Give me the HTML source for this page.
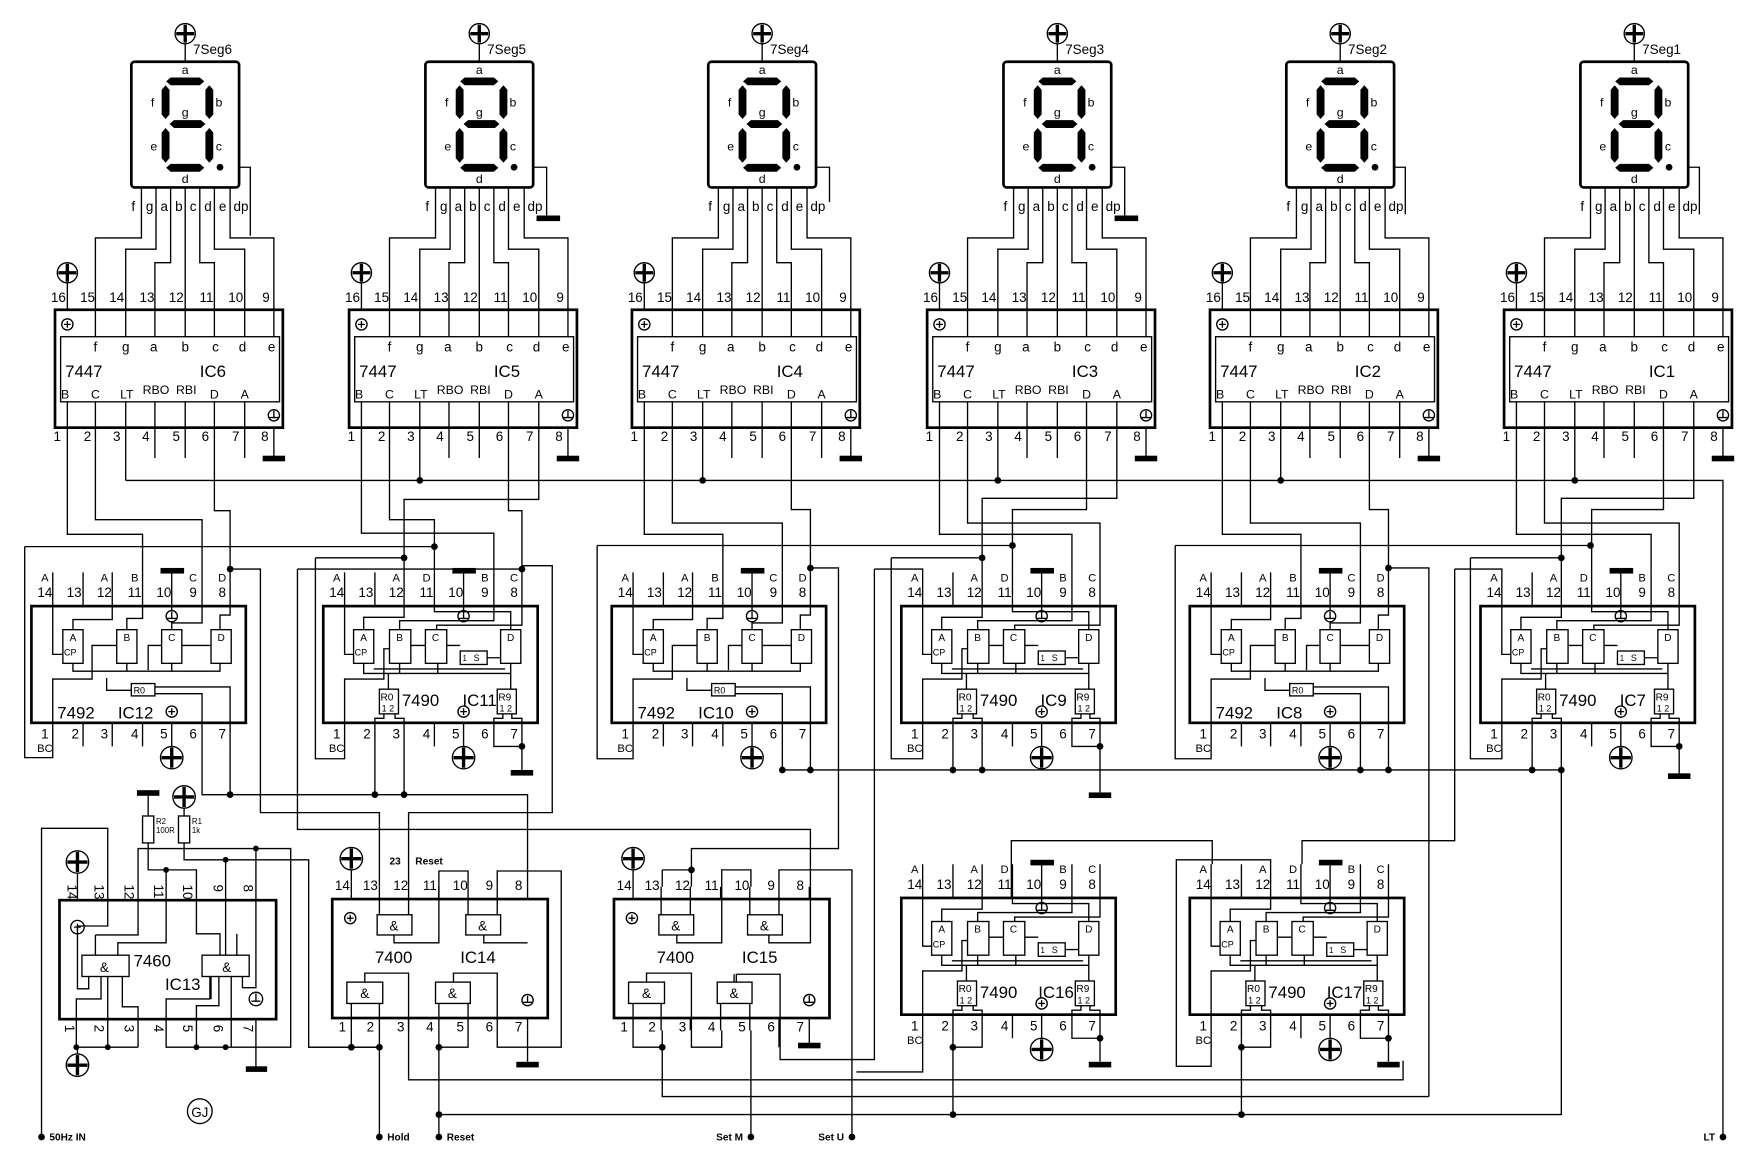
<!DOCTYPE html>
<html><head><meta charset="utf-8"><style>
html,body{margin:0;padding:0;background:#fff}
svg{display:block}
.w{fill:none;stroke:#000;stroke-width:1.2}
.bx{fill:none;stroke:#000;stroke-width:2.4}
.p{fill:none;stroke:#000;stroke-width:3}
.o{fill:#fff;stroke:#000;stroke-width:1.2}
text{font-family:"Liberation Sans",sans-serif;fill:#000}
.t7{font-size:7px}.t8{font-size:8px}.t9{font-size:9px}.t10{font-size:10px}.t11{font-size:11px}.t12{font-size:12px}.t15{font-size:15px}
.bd{font-size:9px;font-weight:bold}
</style></head><body>
<svg width="1760" height="1169" viewBox="0 0 1568 1041.5" preserveAspectRatio="none" xmlns="http://www.w3.org/2000/svg">
<rect width="1568" height="1042" fill="#fff"/>

<!-- ===== COLUMN TEMPLATE (7seg + 7447) x6 ===== -->
<g id="c6" transform="translate(0,0)">
<circle cx="165" cy="30" r="9" class="o"/><path class="p" d="M165,22V38M157,30H173"/>
<path class="w" d="M165,39V55"/>
<text x="172" y="48" class="t12">7Seg6</text>
<rect x="117" y="55" width="96" height="112" rx="3" class="bx"/>
<path d="M148,72.5L152,69H178L182,72.5L178,76H152Z M147.5,76L151,80V102L147.5,106L144,102V80Z M186.5,76L190,80V102L186.5,106L183,102V80Z M151,110.5L155,107H179L183,110.5L179,114H155Z M147.5,114L151,118V141L147.5,145L144,141V118Z M186.5,114L190,118V141L186.5,145L183,141V118Z M148,149.5L152,146H178L182,149.5L178,153H152Z"/>
<circle cx="196" cy="149" r="3"/>
<g class="t11" text-anchor="middle"><text x="165" y="66">a</text><text x="136" y="95">f</text><text x="195" y="95">b</text><text x="165" y="104">g</text><text x="137" y="134">e</text><text x="195" y="134">c</text><text x="165" y="163">d</text></g>
<path class="w" d="M126,167V212H85V300 M139,167V222H112V300 M152,167V234H138V300 M165,167V300 M178,167V234H191V300 M191,167V222H218V300 M205,167V212H244V300 M213,149H223V210"/>
<text class="t12" y="188"><tspan x="117">f</tspan><tspan x="130">g</tspan><tspan x="143">a</tspan><tspan x="156">b</tspan><tspan x="169">c</tspan><tspan x="182">d</tspan><tspan x="195">e</tspan><tspan x="208">dp</tspan></text>
<circle cx="60" cy="243" r="9" class="o"/><path class="p" d="M60,235V251M52,243H68"/>
<path class="w" d="M60,252V276"/>
<text class="t12" y="269" text-anchor="middle"><tspan x="52">16</tspan><tspan x="78">15</tspan><tspan x="104">14</tspan><tspan x="131">13</tspan><tspan x="157">12</tspan><tspan x="184">11</tspan><tspan x="210">10</tspan><tspan x="237">9</tspan></text>
<rect x="49" y="276" width="203" height="105" class="bx"/>
<rect x="54" y="300" width="195" height="58" class="w"/>
<circle cx="60" cy="289" r="5" class="w"/><path class="w" d="M57,289H63M60,286V292"/>
<circle cx="244" cy="370" r="5" class="w"/><path class="w" d="M244,366V372M240,372H248"/>
<text class="t12" y="313" text-anchor="middle"><tspan x="85">f</tspan><tspan x="112">g</tspan><tspan x="137">a</tspan><tspan x="165">b</tspan><tspan x="192">c</tspan><tspan x="216">d</tspan><tspan x="242">e</tspan></text>
<text class="t15" x="58" y="336">7447</text><text class="t15" x="178" y="336">IC6</text>
<text class="t11" y="355" text-anchor="middle"><tspan x="58">B</tspan><tspan x="85">C</tspan><tspan x="113">LT</tspan><tspan x="139" dy="-4">RBO</tspan><tspan x="166">RBI</tspan><tspan x="191" dy="4">D</tspan><tspan x="218">A</tspan></text>
<path class="w" d="M60,358V381 M85,358V381 M112,358V428 M191,358V381 M138,358V408 M165,358V408 M218,358V408 M244,381V408"/>
<rect x="234" y="406" width="20" height="5"/>
<text class="t12" y="393" text-anchor="middle"><tspan x="51">1</tspan><tspan x="78">2</tspan><tspan x="104">3</tspan><tspan x="130">4</tspan><tspan x="157">5</tspan><tspan x="183">6</tspan><tspan x="210">7</tspan><tspan x="236">8</tspan></text>
</g>

<g transform="translate(262,0)">
<circle cx="165" cy="30" r="9" class="o"/><path class="p" d="M165,22V38M157,30H173"/>
<path class="w" d="M165,39V55"/>
<text x="172" y="48" class="t12">7Seg5</text>
<rect x="117" y="55" width="96" height="112" rx="3" class="bx"/>
<path d="M148,72.5L152,69H178L182,72.5L178,76H152Z M147.5,76L151,80V102L147.5,106L144,102V80Z M186.5,76L190,80V102L186.5,106L183,102V80Z M151,110.5L155,107H179L183,110.5L179,114H155Z M147.5,114L151,118V141L147.5,145L144,141V118Z M186.5,114L190,118V141L186.5,145L183,141V118Z M148,149.5L152,146H178L182,149.5L178,153H152Z"/>
<circle cx="196" cy="149" r="3"/>
<g class="t11" text-anchor="middle"><text x="165" y="66">a</text><text x="136" y="95">f</text><text x="195" y="95">b</text><text x="165" y="104">g</text><text x="137" y="134">e</text><text x="195" y="134">c</text><text x="165" y="163">d</text></g>
<path class="w" d="M126,167V212H85V300 M139,167V222H112V300 M152,167V234H138V300 M165,167V300 M178,167V234H191V300 M191,167V222H218V300 M205,167V212H244V300 M213,149H225V193"/>
<rect x="216" y="192" width="21" height="5"/>
<text class="t12" y="188"><tspan x="117">f</tspan><tspan x="130">g</tspan><tspan x="143">a</tspan><tspan x="156">b</tspan><tspan x="169">c</tspan><tspan x="182">d</tspan><tspan x="195">e</tspan><tspan x="208">dp</tspan></text>
<circle cx="60" cy="243" r="9" class="o"/><path class="p" d="M60,235V251M52,243H68"/>
<path class="w" d="M60,252V276"/>
<text class="t12" y="269" text-anchor="middle"><tspan x="52">16</tspan><tspan x="78">15</tspan><tspan x="104">14</tspan><tspan x="131">13</tspan><tspan x="157">12</tspan><tspan x="184">11</tspan><tspan x="210">10</tspan><tspan x="237">9</tspan></text>
<rect x="49" y="276" width="203" height="105" class="bx"/>
<rect x="54" y="300" width="195" height="58" class="w"/>
<circle cx="60" cy="289" r="5" class="w"/><path class="w" d="M57,289H63M60,286V292"/>
<circle cx="244" cy="370" r="5" class="w"/><path class="w" d="M244,366V372M240,372H248"/>
<text class="t12" y="313" text-anchor="middle"><tspan x="85">f</tspan><tspan x="112">g</tspan><tspan x="137">a</tspan><tspan x="165">b</tspan><tspan x="192">c</tspan><tspan x="216">d</tspan><tspan x="242">e</tspan></text>
<text class="t15" x="58" y="336">7447</text><text class="t15" x="178" y="336">IC5</text>
<text class="t11" y="355" text-anchor="middle"><tspan x="58">B</tspan><tspan x="85">C</tspan><tspan x="113">LT</tspan><tspan x="139" dy="-4">RBO</tspan><tspan x="166">RBI</tspan><tspan x="191" dy="4">D</tspan><tspan x="218">A</tspan></text>
<path class="w" d="M60,358V381 M85,358V381 M112,358V428 M191,358V381 M138,358V408 M165,358V408 M218,358V408 M244,381V408"/>
<rect x="234" y="406" width="20" height="5"/>
<text class="t12" y="393" text-anchor="middle"><tspan x="51">1</tspan><tspan x="78">2</tspan><tspan x="104">3</tspan><tspan x="130">4</tspan><tspan x="157">5</tspan><tspan x="183">6</tspan><tspan x="210">7</tspan><tspan x="236">8</tspan></text>
</g>

<g transform="translate(514,0)">
<circle cx="165" cy="30" r="9" class="o"/><path class="p" d="M165,22V38M157,30H173"/>
<path class="w" d="M165,39V55"/>
<text x="172" y="48" class="t12">7Seg4</text>
<rect x="117" y="55" width="96" height="112" rx="3" class="bx"/>
<path d="M148,72.5L152,69H178L182,72.5L178,76H152Z M147.5,76L151,80V102L147.5,106L144,102V80Z M186.5,76L190,80V102L186.5,106L183,102V80Z M151,110.5L155,107H179L183,110.5L179,114H155Z M147.5,114L151,118V141L147.5,145L144,141V118Z M186.5,114L190,118V141L186.5,145L183,141V118Z M148,149.5L152,146H178L182,149.5L178,153H152Z"/>
<circle cx="196" cy="149" r="3"/>
<g class="t11" text-anchor="middle"><text x="165" y="66">a</text><text x="136" y="95">f</text><text x="195" y="95">b</text><text x="165" y="104">g</text><text x="137" y="134">e</text><text x="195" y="134">c</text><text x="165" y="163">d</text></g>
<path class="w" d="M126,167V212H85V300 M139,167V222H112V300 M152,167V234H138V300 M165,167V300 M178,167V234H191V300 M191,167V222H218V300 M205,167V212H244V300 M213,149H225V180"/>
<text class="t12" y="188"><tspan x="117">f</tspan><tspan x="130">g</tspan><tspan x="143">a</tspan><tspan x="156">b</tspan><tspan x="169">c</tspan><tspan x="182">d</tspan><tspan x="195">e</tspan><tspan x="208">dp</tspan></text>
<circle cx="60" cy="243" r="9" class="o"/><path class="p" d="M60,235V251M52,243H68"/>
<path class="w" d="M60,252V276"/>
<text class="t12" y="269" text-anchor="middle"><tspan x="52">16</tspan><tspan x="78">15</tspan><tspan x="104">14</tspan><tspan x="131">13</tspan><tspan x="157">12</tspan><tspan x="184">11</tspan><tspan x="210">10</tspan><tspan x="237">9</tspan></text>
<rect x="49" y="276" width="203" height="105" class="bx"/>
<rect x="54" y="300" width="195" height="58" class="w"/>
<circle cx="60" cy="289" r="5" class="w"/><path class="w" d="M57,289H63M60,286V292"/>
<circle cx="244" cy="370" r="5" class="w"/><path class="w" d="M244,366V372M240,372H248"/>
<text class="t12" y="313" text-anchor="middle"><tspan x="85">f</tspan><tspan x="112">g</tspan><tspan x="137">a</tspan><tspan x="165">b</tspan><tspan x="192">c</tspan><tspan x="216">d</tspan><tspan x="242">e</tspan></text>
<text class="t15" x="58" y="336">7447</text><text class="t15" x="178" y="336">IC4</text>
<text class="t11" y="355" text-anchor="middle"><tspan x="58">B</tspan><tspan x="85">C</tspan><tspan x="113">LT</tspan><tspan x="139" dy="-4">RBO</tspan><tspan x="166">RBI</tspan><tspan x="191" dy="4">D</tspan><tspan x="218">A</tspan></text>
<path class="w" d="M60,358V381 M85,358V381 M112,358V428 M191,358V381 M138,358V408 M165,358V408 M218,358V408 M244,381V408"/>
<rect x="234" y="406" width="20" height="5"/>
<text class="t12" y="393" text-anchor="middle"><tspan x="51">1</tspan><tspan x="78">2</tspan><tspan x="104">3</tspan><tspan x="130">4</tspan><tspan x="157">5</tspan><tspan x="183">6</tspan><tspan x="210">7</tspan><tspan x="236">8</tspan></text>
</g>

<g transform="translate(777,0)">
<circle cx="165" cy="30" r="9" class="o"/><path class="p" d="M165,22V38M157,30H173"/>
<path class="w" d="M165,39V55"/>
<text x="172" y="48" class="t12">7Seg3</text>
<rect x="117" y="55" width="96" height="112" rx="3" class="bx"/>
<path d="M148,72.5L152,69H178L182,72.5L178,76H152Z M147.5,76L151,80V102L147.5,106L144,102V80Z M186.5,76L190,80V102L186.5,106L183,102V80Z M151,110.5L155,107H179L183,110.5L179,114H155Z M147.5,114L151,118V141L147.5,145L144,141V118Z M186.5,114L190,118V141L186.5,145L183,141V118Z M148,149.5L152,146H178L182,149.5L178,153H152Z"/>
<circle cx="196" cy="149" r="3"/>
<g class="t11" text-anchor="middle"><text x="165" y="66">a</text><text x="136" y="95">f</text><text x="195" y="95">b</text><text x="165" y="104">g</text><text x="137" y="134">e</text><text x="195" y="134">c</text><text x="165" y="163">d</text></g>
<path class="w" d="M126,167V212H85V300 M139,167V222H112V300 M152,167V234H138V300 M165,167V300 M178,167V234H191V300 M191,167V222H218V300 M205,167V212H244V300 M213,149H225V193"/>
<rect x="216" y="192" width="21" height="5"/>
<text class="t12" y="188"><tspan x="117">f</tspan><tspan x="130">g</tspan><tspan x="143">a</tspan><tspan x="156">b</tspan><tspan x="169">c</tspan><tspan x="182">d</tspan><tspan x="195">e</tspan><tspan x="208">dp</tspan></text>
<circle cx="60" cy="243" r="9" class="o"/><path class="p" d="M60,235V251M52,243H68"/>
<path class="w" d="M60,252V276"/>
<text class="t12" y="269" text-anchor="middle"><tspan x="52">16</tspan><tspan x="78">15</tspan><tspan x="104">14</tspan><tspan x="131">13</tspan><tspan x="157">12</tspan><tspan x="184">11</tspan><tspan x="210">10</tspan><tspan x="237">9</tspan></text>
<rect x="49" y="276" width="203" height="105" class="bx"/>
<rect x="54" y="300" width="195" height="58" class="w"/>
<circle cx="60" cy="289" r="5" class="w"/><path class="w" d="M57,289H63M60,286V292"/>
<circle cx="244" cy="370" r="5" class="w"/><path class="w" d="M244,366V372M240,372H248"/>
<text class="t12" y="313" text-anchor="middle"><tspan x="85">f</tspan><tspan x="112">g</tspan><tspan x="137">a</tspan><tspan x="165">b</tspan><tspan x="192">c</tspan><tspan x="216">d</tspan><tspan x="242">e</tspan></text>
<text class="t15" x="58" y="336">7447</text><text class="t15" x="178" y="336">IC3</text>
<text class="t11" y="355" text-anchor="middle"><tspan x="58">B</tspan><tspan x="85">C</tspan><tspan x="113">LT</tspan><tspan x="139" dy="-4">RBO</tspan><tspan x="166">RBI</tspan><tspan x="191" dy="4">D</tspan><tspan x="218">A</tspan></text>
<path class="w" d="M60,358V381 M85,358V381 M112,358V428 M191,358V381 M138,358V408 M165,358V408 M218,358V408 M244,381V408"/>
<rect x="234" y="406" width="20" height="5"/>
<text class="t12" y="393" text-anchor="middle"><tspan x="51">1</tspan><tspan x="78">2</tspan><tspan x="104">3</tspan><tspan x="130">4</tspan><tspan x="157">5</tspan><tspan x="183">6</tspan><tspan x="210">7</tspan><tspan x="236">8</tspan></text>
</g>

<g transform="translate(1029,0)">
<circle cx="165" cy="30" r="9" class="o"/><path class="p" d="M165,22V38M157,30H173"/>
<path class="w" d="M165,39V55"/>
<text x="172" y="48" class="t12">7Seg2</text>
<rect x="117" y="55" width="96" height="112" rx="3" class="bx"/>
<path d="M148,72.5L152,69H178L182,72.5L178,76H152Z M147.5,76L151,80V102L147.5,106L144,102V80Z M186.5,76L190,80V102L186.5,106L183,102V80Z M151,110.5L155,107H179L183,110.5L179,114H155Z M147.5,114L151,118V141L147.5,145L144,141V118Z M186.5,114L190,118V141L186.5,145L183,141V118Z M148,149.5L152,146H178L182,149.5L178,153H152Z"/>
<circle cx="196" cy="149" r="3"/>
<g class="t11" text-anchor="middle"><text x="165" y="66">a</text><text x="136" y="95">f</text><text x="195" y="95">b</text><text x="165" y="104">g</text><text x="137" y="134">e</text><text x="195" y="134">c</text><text x="165" y="163">d</text></g>
<path class="w" d="M126,167V212H85V300 M139,167V222H112V300 M152,167V234H138V300 M165,167V300 M178,167V234H191V300 M191,167V222H218V300 M205,167V212H244V300 M213,149H223V191"/>
<text class="t12" y="188"><tspan x="117">f</tspan><tspan x="130">g</tspan><tspan x="143">a</tspan><tspan x="156">b</tspan><tspan x="169">c</tspan><tspan x="182">d</tspan><tspan x="195">e</tspan><tspan x="208">dp</tspan></text>
<circle cx="60" cy="243" r="9" class="o"/><path class="p" d="M60,235V251M52,243H68"/>
<path class="w" d="M60,252V276"/>
<text class="t12" y="269" text-anchor="middle"><tspan x="52">16</tspan><tspan x="78">15</tspan><tspan x="104">14</tspan><tspan x="131">13</tspan><tspan x="157">12</tspan><tspan x="184">11</tspan><tspan x="210">10</tspan><tspan x="237">9</tspan></text>
<rect x="49" y="276" width="203" height="105" class="bx"/>
<rect x="54" y="300" width="195" height="58" class="w"/>
<circle cx="60" cy="289" r="5" class="w"/><path class="w" d="M57,289H63M60,286V292"/>
<circle cx="244" cy="370" r="5" class="w"/><path class="w" d="M244,366V372M240,372H248"/>
<text class="t12" y="313" text-anchor="middle"><tspan x="85">f</tspan><tspan x="112">g</tspan><tspan x="137">a</tspan><tspan x="165">b</tspan><tspan x="192">c</tspan><tspan x="216">d</tspan><tspan x="242">e</tspan></text>
<text class="t15" x="58" y="336">7447</text><text class="t15" x="178" y="336">IC2</text>
<text class="t11" y="355" text-anchor="middle"><tspan x="58">B</tspan><tspan x="85">C</tspan><tspan x="113">LT</tspan><tspan x="139" dy="-4">RBO</tspan><tspan x="166">RBI</tspan><tspan x="191" dy="4">D</tspan><tspan x="218">A</tspan></text>
<path class="w" d="M60,358V381 M85,358V381 M112,358V428 M191,358V381 M138,358V408 M165,358V408 M218,358V408 M244,381V408"/>
<rect x="234" y="406" width="20" height="5"/>
<text class="t12" y="393" text-anchor="middle"><tspan x="51">1</tspan><tspan x="78">2</tspan><tspan x="104">3</tspan><tspan x="130">4</tspan><tspan x="157">5</tspan><tspan x="183">6</tspan><tspan x="210">7</tspan><tspan x="236">8</tspan></text>
</g>

<g transform="translate(1291,0)">
<circle cx="165" cy="30" r="9" class="o"/><path class="p" d="M165,22V38M157,30H173"/>
<path class="w" d="M165,39V55"/>
<text x="172" y="48" class="t12">7Seg1</text>
<rect x="117" y="55" width="96" height="112" rx="3" class="bx"/>
<path d="M148,72.5L152,69H178L182,72.5L178,76H152Z M147.5,76L151,80V102L147.5,106L144,102V80Z M186.5,76L190,80V102L186.5,106L183,102V80Z M151,110.5L155,107H179L183,110.5L179,114H155Z M147.5,114L151,118V141L147.5,145L144,141V118Z M186.5,114L190,118V141L186.5,145L183,141V118Z M148,149.5L152,146H178L182,149.5L178,153H152Z"/>
<circle cx="196" cy="149" r="3"/>
<g class="t11" text-anchor="middle"><text x="165" y="66">a</text><text x="136" y="95">f</text><text x="195" y="95">b</text><text x="165" y="104">g</text><text x="137" y="134">e</text><text x="195" y="134">c</text><text x="165" y="163">d</text></g>
<path class="w" d="M126,167V212H85V300 M139,167V222H112V300 M152,167V234H138V300 M165,167V300 M178,167V234H191V300 M191,167V222H218V300 M205,167V212H244V300 M213,149H223V191"/>
<text class="t12" y="188"><tspan x="117">f</tspan><tspan x="130">g</tspan><tspan x="143">a</tspan><tspan x="156">b</tspan><tspan x="169">c</tspan><tspan x="182">d</tspan><tspan x="195">e</tspan><tspan x="208">dp</tspan></text>
<circle cx="60" cy="243" r="9" class="o"/><path class="p" d="M60,235V251M52,243H68"/>
<path class="w" d="M60,252V276"/>
<text class="t12" y="269" text-anchor="middle"><tspan x="52">16</tspan><tspan x="78">15</tspan><tspan x="104">14</tspan><tspan x="131">13</tspan><tspan x="157">12</tspan><tspan x="184">11</tspan><tspan x="210">10</tspan><tspan x="237">9</tspan></text>
<rect x="49" y="276" width="203" height="105" class="bx"/>
<rect x="54" y="300" width="195" height="58" class="w"/>
<circle cx="60" cy="289" r="5" class="w"/><path class="w" d="M57,289H63M60,286V292"/>
<circle cx="244" cy="370" r="5" class="w"/><path class="w" d="M244,366V372M240,372H248"/>
<text class="t12" y="313" text-anchor="middle"><tspan x="85">f</tspan><tspan x="112">g</tspan><tspan x="137">a</tspan><tspan x="165">b</tspan><tspan x="192">c</tspan><tspan x="216">d</tspan><tspan x="242">e</tspan></text>
<text class="t15" x="58" y="336">7447</text><text class="t15" x="178" y="336">IC1</text>
<text class="t11" y="355" text-anchor="middle"><tspan x="58">B</tspan><tspan x="85">C</tspan><tspan x="113">LT</tspan><tspan x="139" dy="-4">RBO</tspan><tspan x="166">RBI</tspan><tspan x="191" dy="4">D</tspan><tspan x="218">A</tspan></text>
<path class="w" d="M60,358V381 M85,358V381 M112,358V428 M191,358V381 M138,358V408 M165,358V408 M218,358V408 M244,381V408"/>
<rect x="234" y="406" width="20" height="5"/>
<text class="t12" y="393" text-anchor="middle"><tspan x="51">1</tspan><tspan x="78">2</tspan><tspan x="104">3</tspan><tspan x="130">4</tspan><tspan x="157">5</tspan><tspan x="183">6</tspan><tspan x="210">7</tspan><tspan x="236">8</tspan></text>
</g>

<!-- ===== COUNTERS ===== -->
<!-- 7492 IC12 -->
<g transform="translate(0,0)">
<rect x="28" y="540" width="191" height="104" class="bx"/>
<path class="w" d="M47,510V583H56 M74,510V540 M100,510V552H65V561 M127,510V551H113V561 M153,510V544 M180,510V555H153V561 M205,510V548H196V561 M65,591V598H196V591 M113,591V598 M153,591V598 M104,575H82V605H47V665 M144,575H132V597 M162,575H188 M95,604V615H117 M138,612H205V665 M138,618H180V665 M74,644V665 M100,644V665 M127,644V665 M153,644V665"/>
<rect x="143" y="506" width="21" height="5"/>
<circle cx="153" cy="549" r="5" class="w"/><path class="w" d="M153,545V551M149,551H157"/>
<rect x="56" y="561" width="18" height="30" class="w"/><rect x="104" y="561" width="18" height="30" class="w"/><rect x="144" y="561" width="18" height="30" class="w"/><rect x="188" y="561" width="18" height="30" class="w"/>
<rect x="117" y="609" width="21" height="11" class="w"/>
<text class="t9" y="571" text-anchor="middle"><tspan x="65">A</tspan><tspan x="113">B</tspan><tspan x="153">C</tspan><tspan x="197">D</tspan></text>
<text class="t8" x="57" y="584">CP</text><text class="t8" x="119" y="618">R0</text>
<text class="t15" x="51" y="640">7492</text><text class="t15" x="105" y="640">IC12</text>
<circle cx="153" cy="634" r="5" class="w"/><path class="w" d="M150,634H156M153,631V637"/>
<circle cx="153" cy="675" r="10" class="o"/><path class="p" d="M153,666V684M144,675H162"/>
<text class="t10" y="518" text-anchor="middle"><tspan x="40">A</tspan><tspan x="93">A</tspan><tspan x="120">B</tspan><tspan x="172">C</tspan><tspan x="198">D</tspan></text>
<text class="t12" y="532" text-anchor="middle"><tspan x="40">14</tspan><tspan x="66">13</tspan><tspan x="93">12</tspan><tspan x="120">11</tspan><tspan x="146">10</tspan><tspan x="172">9</tspan><tspan x="198">8</tspan></text>
<text class="t12" y="658" text-anchor="middle"><tspan x="40">1</tspan><tspan x="67">2</tspan><tspan x="93">3</tspan><tspan x="120">4</tspan><tspan x="146">5</tspan><tspan x="172">6</tspan><tspan x="198">7</tspan></text>
<text class="t10" x="40" y="670" text-anchor="middle">BC</text>
</g>
<!-- 7492 IC10 -->
<g transform="translate(517,0)">
<rect x="28" y="540" width="191" height="104" class="bx"/>
<path class="w" d="M47,510V583H56 M74,510V540 M100,510V552H65V561 M127,510V551H113V561 M153,510V544 M180,510V555H153V561 M205,510V548H196V561 M65,591V598H196V591 M113,591V598 M153,591V598 M104,575H82V605H47V665 M144,575H132V597 M162,575H188 M95,604V615H117 M138,612H205V665 M138,618H180V665 M74,644V665 M100,644V665 M127,644V665 M153,644V665"/>
<rect x="143" y="506" width="21" height="5"/>
<circle cx="153" cy="549" r="5" class="w"/><path class="w" d="M153,545V551M149,551H157"/>
<rect x="56" y="561" width="18" height="30" class="w"/><rect x="104" y="561" width="18" height="30" class="w"/><rect x="144" y="561" width="18" height="30" class="w"/><rect x="188" y="561" width="18" height="30" class="w"/>
<rect x="117" y="609" width="21" height="11" class="w"/>
<text class="t9" y="571" text-anchor="middle"><tspan x="65">A</tspan><tspan x="113">B</tspan><tspan x="153">C</tspan><tspan x="197">D</tspan></text>
<text class="t8" x="57" y="584">CP</text><text class="t8" x="119" y="618">R0</text>
<text class="t15" x="51" y="640">7492</text><text class="t15" x="105" y="640">IC10</text>
<circle cx="153" cy="634" r="5" class="w"/><path class="w" d="M150,634H156M153,631V637"/>
<circle cx="153" cy="675" r="10" class="o"/><path class="p" d="M153,666V684M144,675H162"/>
<text class="t10" y="518" text-anchor="middle"><tspan x="40">A</tspan><tspan x="93">A</tspan><tspan x="120">B</tspan><tspan x="172">C</tspan><tspan x="198">D</tspan></text>
<text class="t12" y="532" text-anchor="middle"><tspan x="40">14</tspan><tspan x="66">13</tspan><tspan x="93">12</tspan><tspan x="120">11</tspan><tspan x="146">10</tspan><tspan x="172">9</tspan><tspan x="198">8</tspan></text>
<text class="t12" y="658" text-anchor="middle"><tspan x="40">1</tspan><tspan x="67">2</tspan><tspan x="93">3</tspan><tspan x="120">4</tspan><tspan x="146">5</tspan><tspan x="172">6</tspan><tspan x="198">7</tspan></text>
<text class="t10" x="40" y="670" text-anchor="middle">BC</text>
</g>
<!-- 7492 IC8 -->
<g transform="translate(1032,0)">
<rect x="28" y="540" width="191" height="104" class="bx"/>
<path class="w" d="M47,510V583H56 M74,510V540 M100,510V552H65V561 M127,510V551H113V561 M153,510V544 M180,510V555H153V561 M205,510V548H196V561 M65,591V598H196V591 M113,591V598 M153,591V598 M104,575H82V605H47V665 M144,575H132V597 M162,575H188 M95,604V615H117 M138,612H205V665 M138,618H180V665 M74,644V665 M100,644V665 M127,644V665 M153,644V665"/>
<rect x="143" y="506" width="21" height="5"/>
<circle cx="153" cy="549" r="5" class="w"/><path class="w" d="M153,545V551M149,551H157"/>
<rect x="56" y="561" width="18" height="30" class="w"/><rect x="104" y="561" width="18" height="30" class="w"/><rect x="144" y="561" width="18" height="30" class="w"/><rect x="188" y="561" width="18" height="30" class="w"/>
<rect x="117" y="609" width="21" height="11" class="w"/>
<text class="t9" y="571" text-anchor="middle"><tspan x="65">A</tspan><tspan x="113">B</tspan><tspan x="153">C</tspan><tspan x="197">D</tspan></text>
<text class="t8" x="57" y="584">CP</text><text class="t8" x="119" y="618">R0</text>
<text class="t15" x="51" y="640">7492</text><text class="t15" x="105" y="640">IC8</text>
<circle cx="153" cy="634" r="5" class="w"/><path class="w" d="M150,634H156M153,631V637"/>
<circle cx="153" cy="675" r="10" class="o"/><path class="p" d="M153,666V684M144,675H162"/>
<text class="t10" y="518" text-anchor="middle"><tspan x="40">A</tspan><tspan x="93">A</tspan><tspan x="120">B</tspan><tspan x="172">C</tspan><tspan x="198">D</tspan></text>
<text class="t12" y="532" text-anchor="middle"><tspan x="40">14</tspan><tspan x="66">13</tspan><tspan x="93">12</tspan><tspan x="120">11</tspan><tspan x="146">10</tspan><tspan x="172">9</tspan><tspan x="198">8</tspan></text>
<text class="t12" y="658" text-anchor="middle"><tspan x="40">1</tspan><tspan x="67">2</tspan><tspan x="93">3</tspan><tspan x="120">4</tspan><tspan x="146">5</tspan><tspan x="172">6</tspan><tspan x="198">7</tspan></text>
<text class="t10" x="40" y="670" text-anchor="middle">BC</text>
</g>

<!-- 7490 IC11 -->
<g transform="translate(260,0)">
<rect x="28" y="540" width="191" height="104" class="bx"/>
<path class="w" d="M47,510V583H55 M74,510V540 M100,510V550H64V561 M127,510V545H195V561 M153,510V544 M180,510V553H96V561 M205,510V557H129V561 M64,591V600H195V591 M73,596H190 M96,591V600 M130,591V600 M106,575H119 M138,575H150 M174,586H186 M87,578H82V605H47V665 M86,600V614 M195,591V614 M82,636V640H74V665 M92,636V640H100V665 M188,636V640H180V665H205 M196,636V640H205V665 M127,644V665 M153,644V665"/>
<rect x="143" y="506" width="21" height="5"/>
<circle cx="153" cy="549" r="5" class="w"/><path class="w" d="M153,545V551M149,551H157"/>
<rect x="55" y="561" width="18" height="30" class="w"/><rect x="87" y="561" width="19" height="30" class="w"/><rect x="119" y="561" width="19" height="30" class="w"/><rect x="186" y="561" width="18" height="30" class="w"/>
<rect x="150" y="580" width="24" height="12" class="w"/>
<rect x="78" y="614" width="17" height="22" class="w"/><rect x="183" y="614" width="17" height="22" class="w"/>
<text class="t9" y="571" text-anchor="middle"><tspan x="64">A</tspan><tspan x="96">B</tspan><tspan x="128">C</tspan><tspan x="195">D</tspan></text>
<text class="t8" x="56" y="584">CP</text><text class="t7" x="152" y="589">1</text><text class="t8" x="162" y="589">S</text>
<text class="t9" x="79" y="624">R0</text><text class="t8" x="80" y="634">1 2</text>
<text class="t9" x="184" y="624">R9</text><text class="t8" x="185" y="634">1 2</text>
<text class="t15" x="98" y="629">7490</text><text class="t15" x="152" y="629">IC11</text>
<circle cx="153" cy="634" r="5" class="w"/><path class="w" d="M150,634H156M153,631V637"/>
<circle cx="153" cy="675" r="10" class="o"/><path class="p" d="M153,666V684M144,675H162"/>
<text class="t10" y="518" text-anchor="middle"><tspan x="40">A</tspan><tspan x="93">A</tspan><tspan x="120">D</tspan><tspan x="172">B</tspan><tspan x="198">C</tspan></text>
<text class="t12" y="532" text-anchor="middle"><tspan x="40">14</tspan><tspan x="66">13</tspan><tspan x="93">12</tspan><tspan x="120">11</tspan><tspan x="146">10</tspan><tspan x="172">9</tspan><tspan x="198">8</tspan></text>
<text class="t12" y="658" text-anchor="middle"><tspan x="40">1</tspan><tspan x="67">2</tspan><tspan x="93">3</tspan><tspan x="120">4</tspan><tspan x="146">5</tspan><tspan x="172">6</tspan><tspan x="198">7</tspan></text>
<text class="t10" x="40" y="670" text-anchor="middle">BC</text>
</g>
<!-- 7490 IC9 -->
<g transform="translate(775,0)">
<rect x="28" y="540" width="191" height="104" class="bx"/>
<path class="w" d="M47,510V583H55 M74,510V540 M100,510V550H64V561 M127,510V545H195V561 M153,510V544 M180,510V553H96V561 M205,510V557H129V561 M64,591V600H195V591 M73,596H190 M96,591V600 M130,591V600 M106,575H119 M138,575H150 M174,586H186 M87,578H82V605H47V665 M86,600V614 M195,591V614 M82,636V640H74V665 M92,636V640H100V665 M188,636V640H180V665H205 M196,636V640H205V665 M127,644V665 M153,644V665"/>
<rect x="143" y="506" width="21" height="5"/>
<circle cx="153" cy="549" r="5" class="w"/><path class="w" d="M153,545V551M149,551H157"/>
<rect x="55" y="561" width="18" height="30" class="w"/><rect x="87" y="561" width="19" height="30" class="w"/><rect x="119" y="561" width="19" height="30" class="w"/><rect x="186" y="561" width="18" height="30" class="w"/>
<rect x="150" y="580" width="24" height="12" class="w"/>
<rect x="78" y="614" width="17" height="22" class="w"/><rect x="183" y="614" width="17" height="22" class="w"/>
<text class="t9" y="571" text-anchor="middle"><tspan x="64">A</tspan><tspan x="96">B</tspan><tspan x="128">C</tspan><tspan x="195">D</tspan></text>
<text class="t8" x="56" y="584">CP</text><text class="t7" x="152" y="589">1</text><text class="t8" x="162" y="589">S</text>
<text class="t9" x="79" y="624">R0</text><text class="t8" x="80" y="634">1 2</text>
<text class="t9" x="184" y="624">R9</text><text class="t8" x="185" y="634">1 2</text>
<text class="t15" x="98" y="629">7490</text><text class="t15" x="152" y="629">IC9</text>
<circle cx="153" cy="634" r="5" class="w"/><path class="w" d="M150,634H156M153,631V637"/>
<circle cx="153" cy="675" r="10" class="o"/><path class="p" d="M153,666V684M144,675H162"/>
<text class="t10" y="518" text-anchor="middle"><tspan x="40">A</tspan><tspan x="93">A</tspan><tspan x="120">D</tspan><tspan x="172">B</tspan><tspan x="198">C</tspan></text>
<text class="t12" y="532" text-anchor="middle"><tspan x="40">14</tspan><tspan x="66">13</tspan><tspan x="93">12</tspan><tspan x="120">11</tspan><tspan x="146">10</tspan><tspan x="172">9</tspan><tspan x="198">8</tspan></text>
<text class="t12" y="658" text-anchor="middle"><tspan x="40">1</tspan><tspan x="67">2</tspan><tspan x="93">3</tspan><tspan x="120">4</tspan><tspan x="146">5</tspan><tspan x="172">6</tspan><tspan x="198">7</tspan></text>
<text class="t10" x="40" y="670" text-anchor="middle">BC</text>
</g>
<!-- 7490 IC7 -->
<g transform="translate(1291,0)">
<rect x="28" y="540" width="191" height="104" class="bx"/>
<path class="w" d="M47,510V583H55 M74,510V540 M100,510V550H64V561 M127,510V545H195V561 M153,510V544 M180,510V553H96V561 M205,510V557H129V561 M64,591V600H195V591 M73,596H190 M96,591V600 M130,591V600 M106,575H119 M138,575H150 M174,586H186 M87,578H82V605H47V665 M86,600V614 M195,591V614 M82,636V640H74V665 M92,636V640H100V665 M188,636V640H180V665H205 M196,636V640H205V665 M127,644V665 M153,644V665"/>
<rect x="143" y="506" width="21" height="5"/>
<circle cx="153" cy="549" r="5" class="w"/><path class="w" d="M153,545V551M149,551H157"/>
<rect x="55" y="561" width="18" height="30" class="w"/><rect x="87" y="561" width="19" height="30" class="w"/><rect x="119" y="561" width="19" height="30" class="w"/><rect x="186" y="561" width="18" height="30" class="w"/>
<rect x="150" y="580" width="24" height="12" class="w"/>
<rect x="78" y="614" width="17" height="22" class="w"/><rect x="183" y="614" width="17" height="22" class="w"/>
<text class="t9" y="571" text-anchor="middle"><tspan x="64">A</tspan><tspan x="96">B</tspan><tspan x="128">C</tspan><tspan x="195">D</tspan></text>
<text class="t8" x="56" y="584">CP</text><text class="t7" x="152" y="589">1</text><text class="t8" x="162" y="589">S</text>
<text class="t9" x="79" y="624">R0</text><text class="t8" x="80" y="634">1 2</text>
<text class="t9" x="184" y="624">R9</text><text class="t8" x="185" y="634">1 2</text>
<text class="t15" x="98" y="629">7490</text><text class="t15" x="152" y="629">IC7</text>
<circle cx="153" cy="634" r="5" class="w"/><path class="w" d="M150,634H156M153,631V637"/>
<circle cx="153" cy="675" r="10" class="o"/><path class="p" d="M153,666V684M144,675H162"/>
<text class="t10" y="518" text-anchor="middle"><tspan x="40">A</tspan><tspan x="93">A</tspan><tspan x="120">D</tspan><tspan x="172">B</tspan><tspan x="198">C</tspan></text>
<text class="t12" y="532" text-anchor="middle"><tspan x="40">14</tspan><tspan x="66">13</tspan><tspan x="93">12</tspan><tspan x="120">11</tspan><tspan x="146">10</tspan><tspan x="172">9</tspan><tspan x="198">8</tspan></text>
<text class="t12" y="658" text-anchor="middle"><tspan x="40">1</tspan><tspan x="67">2</tspan><tspan x="93">3</tspan><tspan x="120">4</tspan><tspan x="146">5</tspan><tspan x="172">6</tspan><tspan x="198">7</tspan></text>
<text class="t10" x="40" y="670" text-anchor="middle">BC</text>
</g>
<!-- 7490 IC16 -->
<g transform="translate(775,260)">
<rect x="28" y="540" width="191" height="104" class="bx"/>
<path class="w" d="M47,510V583H55 M74,510V540 M100,510V550H64V561 M127,510V545H195V561 M153,510V544 M180,510V553H96V561 M205,510V557H129V561 M64,591V600H195V591 M73,596H190 M96,591V600 M130,591V600 M106,575H119 M138,575H150 M174,586H186 M87,578H82V605H47V665 M86,600V614 M195,591V614 M82,636V640H74V665 M92,636V640H100V665 M188,636V640H180V665H205 M196,636V640H205V665 M127,644V665 M153,644V665"/>
<rect x="143" y="506" width="21" height="5"/>
<circle cx="153" cy="549" r="5" class="w"/><path class="w" d="M153,545V551M149,551H157"/>
<rect x="55" y="561" width="18" height="30" class="w"/><rect x="87" y="561" width="19" height="30" class="w"/><rect x="119" y="561" width="19" height="30" class="w"/><rect x="186" y="561" width="18" height="30" class="w"/>
<rect x="150" y="580" width="24" height="12" class="w"/>
<rect x="78" y="614" width="17" height="22" class="w"/><rect x="183" y="614" width="17" height="22" class="w"/>
<text class="t9" y="571" text-anchor="middle"><tspan x="64">A</tspan><tspan x="96">B</tspan><tspan x="128">C</tspan><tspan x="195">D</tspan></text>
<text class="t8" x="56" y="584">CP</text><text class="t7" x="152" y="589">1</text><text class="t8" x="162" y="589">S</text>
<text class="t9" x="79" y="624">R0</text><text class="t8" x="80" y="634">1 2</text>
<text class="t9" x="184" y="624">R9</text><text class="t8" x="185" y="634">1 2</text>
<text class="t15" x="98" y="629">7490</text><text class="t15" x="150" y="629">IC16</text>
<circle cx="153" cy="634" r="5" class="w"/><path class="w" d="M150,634H156M153,631V637"/>
<circle cx="153" cy="675" r="10" class="o"/><path class="p" d="M153,666V684M144,675H162"/>
<text class="t10" y="518" text-anchor="middle"><tspan x="40">A</tspan><tspan x="93">A</tspan><tspan x="120">D</tspan><tspan x="172">B</tspan><tspan x="198">C</tspan></text>
<text class="t12" y="532" text-anchor="middle"><tspan x="40">14</tspan><tspan x="66">13</tspan><tspan x="93">12</tspan><tspan x="120">11</tspan><tspan x="146">10</tspan><tspan x="172">9</tspan><tspan x="198">8</tspan></text>
<text class="t12" y="658" text-anchor="middle"><tspan x="40">1</tspan><tspan x="67">2</tspan><tspan x="93">3</tspan><tspan x="120">4</tspan><tspan x="146">5</tspan><tspan x="172">6</tspan><tspan x="198">7</tspan></text>
<text class="t10" x="40" y="670" text-anchor="middle">BC</text>
</g>
<!-- 7490 IC17 -->
<g transform="translate(1032,260)">
<rect x="28" y="540" width="191" height="104" class="bx"/>
<path class="w" d="M47,510V583H55 M74,510V540 M100,510V550H64V561 M127,510V545H195V561 M153,510V544 M180,510V553H96V561 M205,510V557H129V561 M64,591V600H195V591 M73,596H190 M96,591V600 M130,591V600 M106,575H119 M138,575H150 M174,586H186 M87,578H82V605H47V665 M86,600V614 M195,591V614 M82,636V640H74V665 M92,636V640H100V665 M188,636V640H180V665H205 M196,636V640H205V665 M127,644V665 M153,644V665"/>
<rect x="143" y="506" width="21" height="5"/>
<circle cx="153" cy="549" r="5" class="w"/><path class="w" d="M153,545V551M149,551H157"/>
<rect x="55" y="561" width="18" height="30" class="w"/><rect x="87" y="561" width="19" height="30" class="w"/><rect x="119" y="561" width="19" height="30" class="w"/><rect x="186" y="561" width="18" height="30" class="w"/>
<rect x="150" y="580" width="24" height="12" class="w"/>
<rect x="78" y="614" width="17" height="22" class="w"/><rect x="183" y="614" width="17" height="22" class="w"/>
<text class="t9" y="571" text-anchor="middle"><tspan x="64">A</tspan><tspan x="96">B</tspan><tspan x="128">C</tspan><tspan x="195">D</tspan></text>
<text class="t8" x="56" y="584">CP</text><text class="t7" x="152" y="589">1</text><text class="t8" x="162" y="589">S</text>
<text class="t9" x="79" y="624">R0</text><text class="t8" x="80" y="634">1 2</text>
<text class="t9" x="184" y="624">R9</text><text class="t8" x="185" y="634">1 2</text>
<text class="t15" x="98" y="629">7490</text><text class="t15" x="150" y="629">IC17</text>
<circle cx="153" cy="634" r="5" class="w"/><path class="w" d="M150,634H156M153,631V637"/>
<circle cx="153" cy="675" r="10" class="o"/><path class="p" d="M153,666V684M144,675H162"/>
<text class="t10" y="518" text-anchor="middle"><tspan x="40">A</tspan><tspan x="93">A</tspan><tspan x="120">D</tspan><tspan x="172">B</tspan><tspan x="198">C</tspan></text>
<text class="t12" y="532" text-anchor="middle"><tspan x="40">14</tspan><tspan x="66">13</tspan><tspan x="93">12</tspan><tspan x="120">11</tspan><tspan x="146">10</tspan><tspan x="172">9</tspan><tspan x="198">8</tspan></text>
<text class="t12" y="658" text-anchor="middle"><tspan x="40">1</tspan><tspan x="67">2</tspan><tspan x="93">3</tspan><tspan x="120">4</tspan><tspan x="146">5</tspan><tspan x="172">6</tspan><tspan x="198">7</tspan></text>
<text class="t10" x="40" y="670" text-anchor="middle">BC</text>
</g>

<!-- ===== 7400 IC14 / IC15 ===== -->
<g transform="translate(0,0)">
<rect x="296" y="801" width="192" height="106" class="bx"/>
<rect x="336" y="815" width="31" height="18" class="w"/><rect x="415" y="815" width="31" height="18" class="w"/>
<rect x="309" y="875" width="32" height="19" class="w"/><rect x="388" y="875" width="31" height="19" class="w"/>
<g class="t12" text-anchor="middle"><text x="351" y="829">&amp;</text><text x="430" y="829">&amp;</text><text x="325" y="889">&amp;</text><text x="403" y="889">&amp;</text></g>
<circle cx="313" cy="765" r="10" class="o"/><path class="p" d="M313,756V774M304,765H322"/>
<path class="w" d="M313,775V801 M338,790V815 M364,790V815 M391,790V801 M417,790V815 M443,790V815 M470,790V801 M313,894V918 M338,894V918 M364,907V918 M391,894V918 M417,894V918 M443,907V918 M470,907V918"/>
<circle cx="312" cy="818" r="5" class="w"/><path class="w" d="M309,818H315M312,815V821"/>
<circle cx="470" cy="891" r="5" class="w"/><path class="w" d="M470,887V893M466,893H474"/>
<text class="t15" x="334" y="858">7400</text>
<text class="t12" y="793" text-anchor="middle"><tspan x="305">14</tspan><tspan x="330">13</tspan><tspan x="357">12</tspan><tspan x="383">11</tspan><tspan x="410">10</tspan><tspan x="436">9</tspan><tspan x="462">8</tspan></text>
<text class="t12" y="919" text-anchor="middle"><tspan x="305">1</tspan><tspan x="330">2</tspan><tspan x="357">3</tspan><tspan x="383">4</tspan><tspan x="410">5</tspan><tspan x="436">6</tspan><tspan x="462">7</tspan></text>
</g>
<text class="t15" x="410" y="858">IC14</text>
<g transform="translate(251,0)">
<rect x="296" y="801" width="192" height="106" class="bx"/>
<rect x="336" y="815" width="31" height="18" class="w"/><rect x="415" y="815" width="31" height="18" class="w"/>
<rect x="309" y="875" width="32" height="19" class="w"/><rect x="388" y="875" width="31" height="19" class="w"/>
<g class="t12" text-anchor="middle"><text x="351" y="829">&amp;</text><text x="430" y="829">&amp;</text><text x="325" y="889">&amp;</text><text x="403" y="889">&amp;</text></g>
<circle cx="313" cy="765" r="10" class="o"/><path class="p" d="M313,756V774M304,765H322"/>
<path class="w" d="M313,775V801 M338,790V815 M364,790V815 M391,790V801 M417,790V815 M443,790V815 M470,790V801 M313,894V918 M338,894V918 M364,907V918 M391,894V918 M417,894V918 M443,907V918 M470,907V918"/>
<circle cx="312" cy="818" r="5" class="w"/><path class="w" d="M309,818H315M312,815V821"/>
<circle cx="470" cy="891" r="5" class="w"/><path class="w" d="M470,887V893M466,893H474"/>
<text class="t15" x="334" y="858">7400</text>
<text class="t12" y="793" text-anchor="middle"><tspan x="305">14</tspan><tspan x="330">13</tspan><tspan x="357">12</tspan><tspan x="383">11</tspan><tspan x="410">10</tspan><tspan x="436">9</tspan><tspan x="462">8</tspan></text>
<text class="t12" y="919" text-anchor="middle"><tspan x="305">1</tspan><tspan x="330">2</tspan><tspan x="357">3</tspan><tspan x="383">4</tspan><tspan x="410">5</tspan><tspan x="436">6</tspan><tspan x="462">7</tspan></text>
</g>
<text class="t15" x="661" y="858">IC15</text>

<!-- ===== 7460 IC13 ===== -->
<rect x="53" y="802" width="193" height="106" class="bx"/>
<rect x="73" y="851" width="42" height="19" class="w"/><rect x="180" y="851" width="42" height="19" class="w"/>
<g class="t12" text-anchor="middle"><text x="93" y="866">&amp;</text><text x="202" y="866">&amp;</text></g>
<text class="t15" x="119" y="861">7460</text><text class="t15" x="147" y="882">IC13</text>
<circle cx="69" cy="826" r="6" class="w"/><path class="w" d="M66,826H72M69,823V829"/>
<circle cx="228" cy="890" r="6" class="w"/><path class="w" d="M228,885V892M224,892H232"/>
<circle cx="69" cy="768" r="10" class="o"/><path class="p" d="M69,759V777M60,768H78"/>
<circle cx="69" cy="949" r="10" class="o"/><path class="p" d="M69,940V958M60,949H78"/>
<g class="t12">
<text x="60" y="788" transform="rotate(90,60,788)">14</text><text x="84" y="788" transform="rotate(90,84,788)">13</text><text x="111" y="788" transform="rotate(90,111,788)">12</text><text x="137" y="788" transform="rotate(90,137,788)">11</text><text x="163" y="788" transform="rotate(90,163,788)">10</text><text x="190" y="788" transform="rotate(90,190,788)">9</text><text x="217" y="788" transform="rotate(90,217,788)">8</text>
<text x="58" y="913" transform="rotate(90,58,913)">1</text><text x="84" y="913" transform="rotate(90,84,913)">2</text><text x="111" y="913" transform="rotate(90,111,913)">3</text><text x="137" y="913" transform="rotate(90,137,913)">4</text><text x="163" y="913" transform="rotate(90,163,913)">5</text><text x="190" y="913" transform="rotate(90,190,913)">6</text><text x="217" y="913" transform="rotate(90,217,913)">7</text>
</g>
<path class="w" d="M69,778V802 M37,1013V738H96V825H69V881H79V870 M123,802V756H259V933H148V890H187V870 M85,833V851 M123,756V833H85 M148,775V840H105V851 M132,751V775H175V832H196V851 M164,751V766H275V933H338 M201,766V851 M228,756V880H216V870 M211,832V851 M90,870V890H68V933 M96,870V933 M109,870V897H123V933 M68,933H123 M69,933V939 M188,870V890 M195,870V896H175V933 M206,870V933 M148,933H259 M228,908V952"/>
<rect x="219" y="950" width="19" height="5"/>
<circle cx="68" cy="933" r="2.6"/><circle cx="96" cy="933" r="2.6"/><circle cx="175" cy="933" r="2.6"/><circle cx="201" cy="933" r="2.6"/>
<circle cx="148" cy="775" r="2.6"/><circle cx="201" cy="766" r="2.6"/><circle cx="228" cy="756" r="2.6"/>
<!-- resistors -->
<rect x="122" y="704" width="20" height="5"/>
<path class="w" d="M132,709V727 M164,720V727"/>
<rect x="127" y="727" width="10" height="24" class="w"/><rect x="159" y="727" width="10" height="24" class="w"/>
<circle cx="164" cy="710" r="10" class="o"/><path class="p" d="M164,701V719M155,710H173"/>
<text class="t7" x="139" y="734">R2</text><text class="t7" x="139" y="742">100R</text>
<text class="t7" x="171" y="734">R1</text><text class="t7" x="171" y="742">1k</text>

<!-- ===== GLOBAL WIRING ===== -->
<path class="w" d="
M112,428H1535V1013
M60,381V476H127V510 M85,381V463H180V510 M191,381V455H205V510 M205,507H232V724H338V790 M22,487V675H47V665 M22,487H387 M180,665V708H470V790 M205,665V708
M322,381V475H440V510 M347,381V463H387V510 M453,381V455H465V510 M480,408V445H360V510 M281,497H360 M281,497V676H307V665 M265,507H465 M265,507V739H722V840H685V833 M465,504H492V724H364V790 M334,665V708 M360,665V708 M465,665V686
M574,381V476H644V510 M599,381V466H697V510 M705,381V454H722V510 M722,506H747V756H616V790 M532,486V676H564V665 M532,486H902 M697,665V686 M722,665V686 M697,686H1391
M837,381V476H955V510 M862,381V466H980V510 M968,381V454H902V510 M995,408V444H875V510 M794,497H875 M794,497V676H822V665 M779,507H822V510 M779,507V944H695V868H656V875 M849,665V686 M875,665V686 M980,665V706
M1089,381V476H1159V510 M1114,381V466H1212V510 M1220,381V454H1237V510 M1237,506H1273V977 M1047,486V676H1079V665 M1047,486H1417 M1212,665V686 M1237,665V686
M1351,381V476H1471V510 M1376,381V466H1496V510 M1482,381V454H1418V510 M1509,408V444H1391V510 M1310,497H1391 M1310,497V676H1338V665 M1296,507H1338V510 M1296,507V749H1160V770 M1365,665V686 M1391,665V686 M1496,665V689
M351,833V840H391V776H417V790 M443,790V776H500V933H443V918 M431,833V840H470 M325,875V867H364V962H1250V945 M404,875V867H443V907
M275,933H338 M313,918V933 M338,918V1013 M417,918V933H391 M391,918V1013 M391,993H1391V686 M470,918V946
M590,775H616 M590,775V790 M603,833V840H643V775H669V790 M694,790V775H759V1013 M576,875V867H616V933H643V918 M564,918V933H590 M590,918V977H1273 M669,918V1013 M694,918V933 M721,918V931 M654,875V868
M901,800V749H1080V770 M822,925V955H763 M849,925V993 M849,933H875V925 M980,925V946
M1132,770V766H1048V950H1079V925 M1106,925V993 M1106,933H1132V925 M1237,925V946
"/>
<!-- ground bars -->
<rect x="455" y="686" width="20" height="5"/><rect x="970" y="706" width="20" height="5"/><rect x="1486" y="689" width="20" height="5"/>
<rect x="460" y="946" width="20" height="5"/><rect x="711" y="929" width="20" height="5"/><rect x="970" y="946" width="20" height="5"/><rect x="1227" y="946" width="20" height="5"/>
<!-- dots -->
<g>
<circle cx="374" cy="428" r="3"/><circle cx="626" cy="428" r="3"/><circle cx="889" cy="428" r="3"/><circle cx="1141" cy="428" r="3"/><circle cx="1403" cy="428" r="3"/>
<circle cx="205" cy="507" r="3"/><circle cx="205" cy="708" r="3"/><circle cx="387" cy="487" r="3"/><circle cx="465" cy="507" r="3"/><circle cx="360" cy="497" r="3"/><circle cx="334" cy="708" r="3"/><circle cx="360" cy="708" r="3"/><circle cx="465" cy="665" r="3"/>
<circle cx="722" cy="506" r="3"/><circle cx="722" cy="686" r="3"/><circle cx="697" cy="686" r="3"/><circle cx="902" cy="486" r="3"/><circle cx="875" cy="497" r="3"/><circle cx="849" cy="686" r="3"/><circle cx="875" cy="686" r="3"/><circle cx="980" cy="665" r="3"/>
<circle cx="1237" cy="506" r="3"/><circle cx="1212" cy="686" r="3"/><circle cx="1237" cy="686" r="3"/><circle cx="1417" cy="486" r="3"/><circle cx="1391" cy="497" r="3"/><circle cx="1365" cy="686" r="3"/><circle cx="1391" cy="686" r="3"/><circle cx="1496" cy="665" r="3"/>
<circle cx="313" cy="933" r="3"/><circle cx="338" cy="933" r="3"/><circle cx="391" cy="933" r="3"/><circle cx="391" cy="993" r="3"/><circle cx="616" cy="775" r="3"/><circle cx="590" cy="933" r="3"/>
<circle cx="849" cy="933" r="3"/><circle cx="849" cy="993" r="3"/><circle cx="980" cy="925" r="3"/><circle cx="1106" cy="933" r="3"/><circle cx="1106" cy="993" r="3"/><circle cx="1237" cy="925" r="3"/>
<circle cx="37" cy="1013" r="3"/><circle cx="338" cy="1013" r="3"/><circle cx="391" cy="1013" r="3"/><circle cx="669" cy="1013" r="3"/><circle cx="759" cy="1013" r="3"/><circle cx="1535" cy="1013" r="3"/>
</g>
<!-- labels -->
<text class="bd" x="44" y="1016">50Hz IN</text>
<text class="bd" x="345" y="1016">Hold</text>
<text class="bd" x="398" y="1016">Reset</text>
<text class="bd" x="662" y="1016" text-anchor="end">Set M</text>
<text class="bd" x="752" y="1016" text-anchor="end">Set U</text>
<text class="bd" x="1528" y="1016" text-anchor="end">LT</text>
<text class="bd" x="347" y="770">23</text><text class="bd" x="370" y="770">Reset</text>
<circle cx="178" cy="990" r="11" class="w"/><text class="t12" x="178" y="995" text-anchor="middle">GJ</text>
</svg>
</body></html>
